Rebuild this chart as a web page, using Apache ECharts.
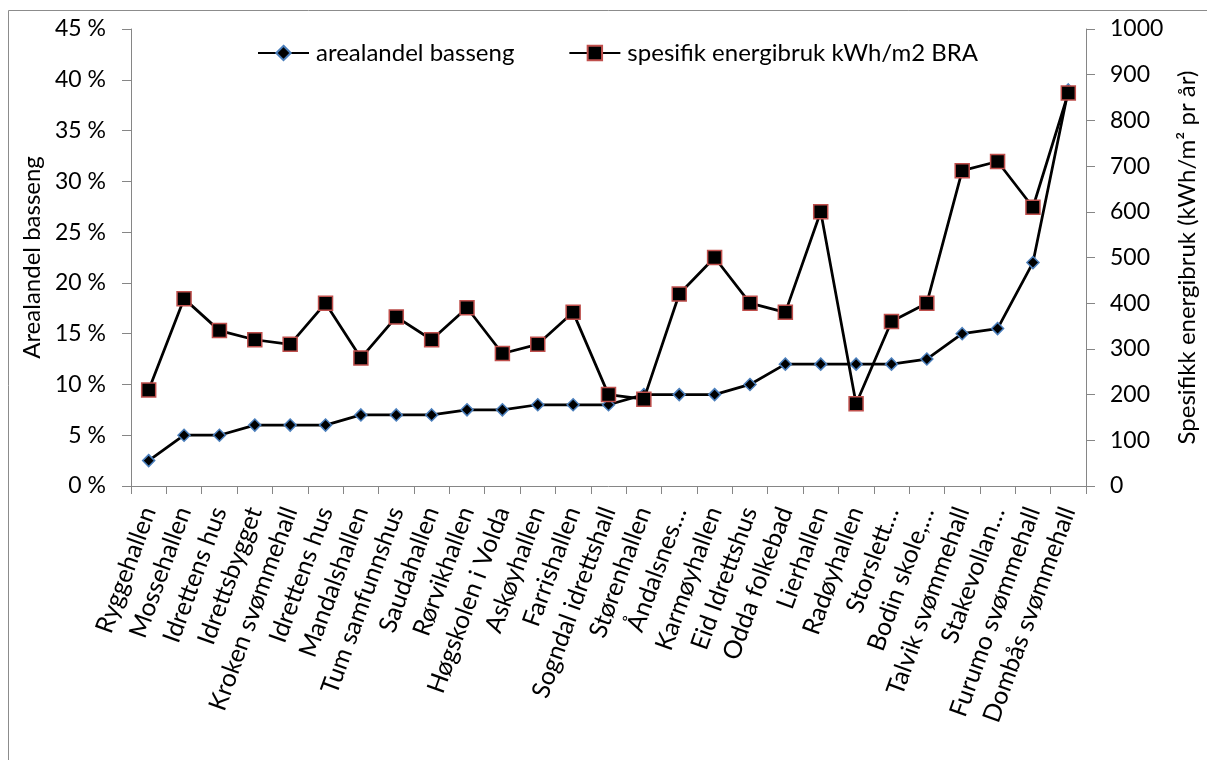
<!DOCTYPE html>
<html>
<head>
<meta charset="utf-8">
<script src="https://cdn.jsdelivr.net/npm/echarts@6/dist/echarts.min.js"></script>
<style>
  html, body { margin: 0; padding: 0; background: #fff; }
  #chart { width: 1207px; height: 760px; }
</style>
</head>
<body>
<div id="chart"></div>
<script>
// Bygninger, sortert etter arealandel basseng
const categories = [
  'Ryggehallen', 'Mossehallen', 'Idrettens hus', 'Idrettsbygget', 'Kroken svømmehall',
  'Idrettens hus', 'Mandalshallen', 'Tum samfunnshus', 'Saudahallen', 'Rørvikhallen',
  'Høgskolen i Volda', 'Askøyhallen', 'Farrishallen', 'Sogndal idrettshall', 'Størenhallen',
  'Åndalsnes…', 'Karmøyhallen', 'Eid Idrettshus', 'Odda folkebad', 'Lierhallen',
  'Radøyhallen', 'Storslett…', 'Bodin skole,…', 'Talvik svømmehall', 'Stakevollan…',
  'Furumo svømmehall', 'Dombås svømmehall'
];

// Arealandel basseng (%)
const arealandel = [
  2.5, 5, 5, 6, 6, 6, 7, 7, 7, 7.5, 7.5, 8, 8, 8, 9,
  9, 9, 10, 12, 12, 12, 12, 12.5, 15, 15.5, 22, 39
];

// Spesifikk energibruk (kWh/m2 BRA pr år)
const energibruk = [
  210, 410, 340, 320, 310, 400, 280, 370, 320, 390, 290, 310, 380, 200, 190,
  420, 500, 400, 380, 600, 180, 360, 400, 690, 710, 610, 860
];

const leftTicks = { min: 0, max: 45, interval: 5 };
const rightTicks = { min: 0, max: 1000, interval: 100 };

const FONT = 'Lato';
const AXIS_GREY = '#868686';

const chart = echarts.init(document.getElementById('chart'), null, { renderer: 'canvas' });

chart.setOption({
  animation: false,
  backgroundColor: '#ffffff',
  textStyle: { fontFamily: FONT, color: '#000' },
  graphic: [{
    type: 'rect',
    shape: { x: 8.5, y: 10.5, width: 1400, height: 900 },
    style: { fill: 'none', stroke: '#8c8c8c', lineWidth: 1 },
    silent: true,
    z: -1
  }],
  grid: { left: 131, right: 112, top: 29, bottom: 274, containLabel: false },
  legend: {
    top: 36,
    left: 252,
    itemWidth: 51,
    itemHeight: 18,
    itemGap: 54,
    textStyle: { fontFamily: FONT, fontSize: 24, color: '#000', padding: [0, 0, 0, 2] },
    data: ['arealandel basseng', 'spesifik energibruk kWh/m2 BRA']
  },
  xAxis: {
    type: 'category',
    data: categories,
    boundaryGap: true,
    axisLine: { lineStyle: { color: AXIS_GREY, width: 1 } },
    axisTick: { show: true, length: 8, interval: 0, lineStyle: { color: AXIS_GREY } },
    axisLabel: {
      interval: 0,
      rotate: 70,
      margin: 22,
      fontFamily: FONT,
      fontSize: 25,
      color: '#000',
      padding: [0, 0, 0, 0]
    },
    splitLine: { show: false }
  },
  yAxis: [{
    type: 'value',
    position: 'left',
    min: leftTicks.min,
    max: leftTicks.max,
    interval: leftTicks.interval,
    name: 'Arealandel basseng',
    nameLocation: 'middle',
    nameRotate: 90,
    nameGap: 85,
    nameTextStyle: { fontFamily: FONT, fontSize: 24, color: '#000' },
    axisLine: { show: true, lineStyle: { color: AXIS_GREY, width: 1 } },
    axisTick: { show: true, length: 9, lineStyle: { color: AXIS_GREY } },
    axisLabel: {
      margin: 25,
      fontFamily: FONT,
      fontSize: 23,
      color: '#000',
      formatter: v => v + ' %'
    },
    splitLine: { show: false }
  }, {
    type: 'value',
    position: 'right',
    min: rightTicks.min,
    max: rightTicks.max,
    interval: rightTicks.interval,
    name: 'Spesifikk energibruk (kWh/m² pr år)',
    nameLocation: 'middle',
    nameRotate: 90,
    nameGap: 89,
    nameTextStyle: { fontFamily: FONT, fontSize: 24, color: '#000' },
    axisLine: { show: true, lineStyle: { color: AXIS_GREY, width: 1 } },
    axisTick: { show: true, length: 9, lineStyle: { color: AXIS_GREY } },
    axisLabel: {
      margin: 24,
      fontFamily: FONT,
      fontSize: 23,
      color: '#000',
      formatter: v => String(v)
    },
    splitLine: { show: false }
  }],
  series: [{
    name: 'arealandel basseng',
    type: 'line',
    yAxisIndex: 0,
    data: arealandel,
    symbol: 'diamond',
    symbolSize: 12,
    lineStyle: { color: '#000', width: 2.75 },
    itemStyle: { color: '#000', borderColor: '#4a7ebb', borderWidth: 1.5 },
    z: 2
  }, {
    name: 'spesifik energibruk kWh/m2 BRA',
    type: 'line',
    yAxisIndex: 1,
    data: energibruk,
    symbol: 'rect',
    symbolSize: 14,
    lineStyle: { color: '#000', width: 2.75 },
    itemStyle: { color: '#000', borderColor: '#c0504d', borderWidth: 1.5 },
    z: 3
  }]
});
</script>
</body>
</html>
